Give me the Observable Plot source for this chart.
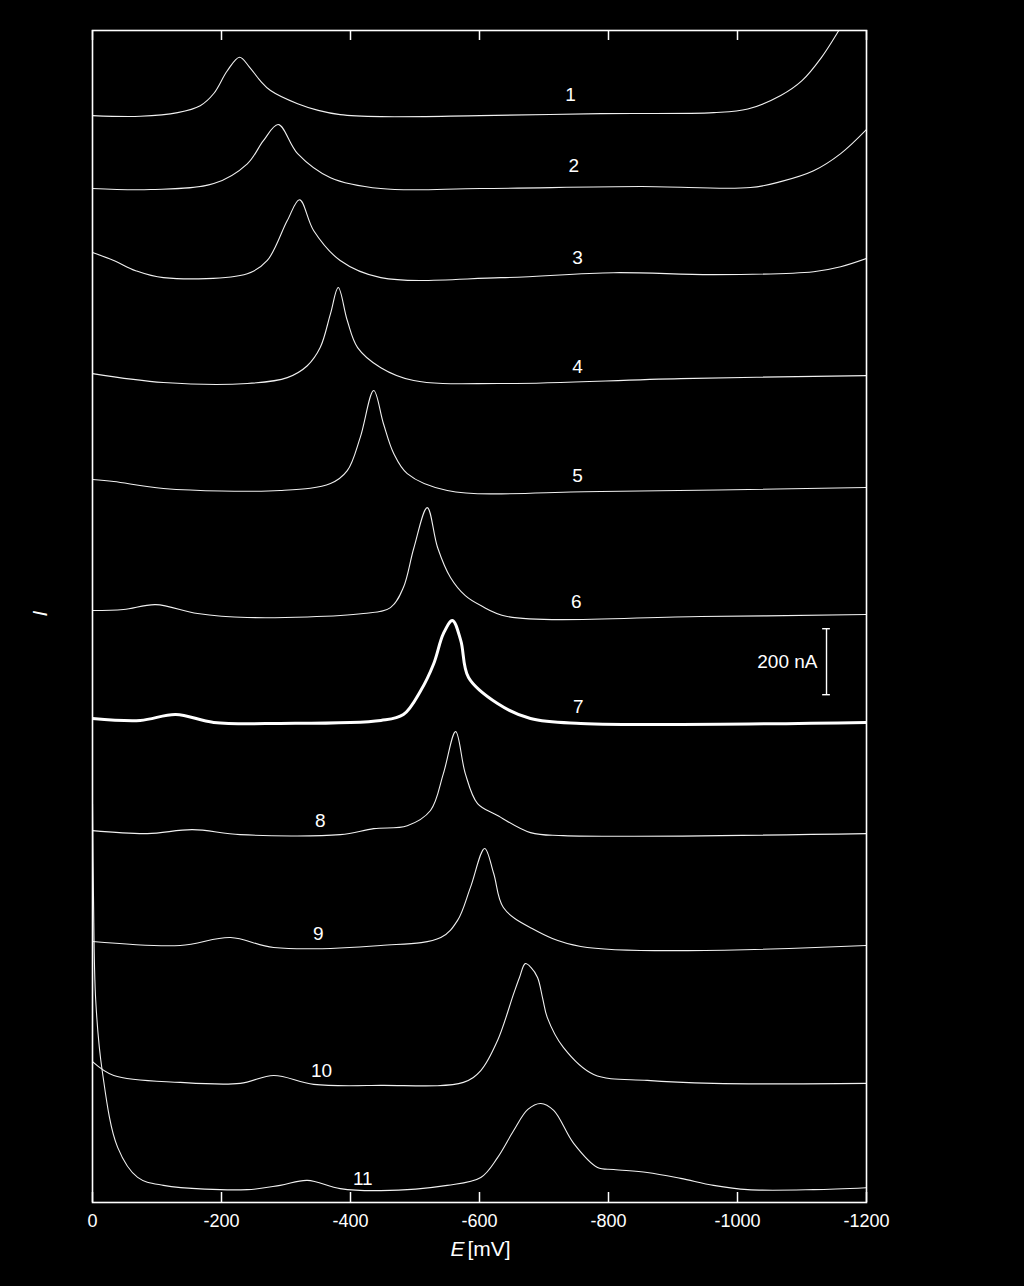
<!DOCTYPE html>
<html>
<head>
<meta charset="utf-8">
<script src="https://cdn.jsdelivr.net/npm/d3@7"></script>
<script src="https://cdn.jsdelivr.net/npm/@observablehq/plot@0.6"></script>
<style>
  html, body { margin: 0; padding: 0; background: #000; overflow: hidden; }
  #chart svg { display: block; }
</style>
</head>
<body>
<div id="chart"></div>
<script>
// Potential E [mV] and current I [nA] (stacked offsets) for each voltammogram
const curve1E = [0, -74, -132, -167, -188, -209, -228, -243, -260, -276, -318, -350, -384, -447, -601, -788, -963, -1016, -1067, -1100, -1130, -1157, -1180, -1200];
const curve1I = [3294, 3292, 3303, 3324, 3361, 3430, 3471, 3442, 3400, 3370, 3330, 3310, 3297, 3291, 3294, 3300, 3303, 3314, 3355, 3400, 3470, 3552, 3630, 3710];

const curve2E = [0, -90, -188, -240, -265, -288, -318, -369, -447, -601, -850, -1020, -1067, -1118, -1160, -1200];
const curve2I = [3073, 3070, 3088, 3148, 3218, 3267, 3179, 3106, 3073, 3073, 3079, 3076, 3094, 3127, 3179, 3252];

const curve3E = [0, -33, -67, -110, -240, -271, -302, -321, -343, -384, -447, -633, -808, -963, -1118, -1160, -1200];
const curve3I = [2879, 2855, 2824, 2803, 2815, 2855, 2976, 3039, 2945, 2855, 2803, 2803, 2818, 2812, 2821, 2836, 2861];

const curve4E = [0, -110, -240, -302, -333, -353, -369, -381, -395, -411, -447, -498, -633, -912, -1200];
const curve4I = [2512, 2485, 2482, 2500, 2536, 2591, 2694, 2773, 2673, 2591, 2530, 2491, 2482, 2497, 2506];

const curve5E = [0, -33, -110, -291, -369, -395, -415, -436, -451, -467, -488, -550, -788, -1200];
const curve5I = [2191, 2185, 2164, 2158, 2179, 2218, 2318, 2461, 2361, 2270, 2209, 2158, 2155, 2167];

const curve6E = [0, -48, -98, -163, -240, -420, -462, -482, -498, -519, -535, -555, -578, -602, -643, -943, -1200];
const curve6I = [1794, 1797, 1812, 1785, 1773, 1785, 1803, 1864, 1982, 2106, 1985, 1894, 1839, 1809, 1776, 1776, 1782];

const curve7E = [0, -74, -129, -188, -291, -447, -482, -509, -529, -544, -558, -571, -583, -628, -679, -757, -1200];
const curve7I = [1467, 1461, 1479, 1455, 1452, 1461, 1479, 1552, 1633, 1724, 1764, 1703, 1591, 1512, 1467, 1452, 1455];

const curve8E = [0, -85, -155, -229, -384, -436, -488, -524, -544, -563, -578, -597, -628, -679, -730, -1200];
const curve8I = [1127, 1118, 1130, 1115, 1115, 1133, 1142, 1188, 1300, 1427, 1300, 1209, 1173, 1121, 1112, 1118];

const curve9E = [0, -136, -214, -281, -447, -540, -566, -586, -608, -622, -637, -679, -757, -1200];
const curve9I = [791, 779, 803, 773, 779, 803, 855, 955, 1073, 997, 894, 833, 776, 779];

const curve10E = [0, -33, -136, -229, -281, -343, -447, -575, -602, -628, -653, -662, -671, -680, -690, -698, -705, -730, -777, -860, -963, -1200];
const curve10I = [427, 385, 364, 361, 385, 358, 355, 364, 400, 491, 633, 682, 724, 712, 682, 618, 561, 470, 388, 370, 361, 361];

const curve11E = [0, -1.5, -5, -15, -39, -70, -110, -240, -291, -333, -384, -447, -550, -602, -628, -653, -675, -695, -715, -746, -783, -808, -860, -912, -963, -1016, -1118, -1200];
const curve11I = [1209, 930, 612, 400, 167, 76, 52, 39, 52, 67, 42, 36, 52, 76, 136, 218, 282, 300, 279, 179, 106, 100, 91, 73, 52, 39, 39, 45];

// Curve number labels
const labelText = ["1", "2", "3", "4", "5", "6", "7", "8", "9", "10", "11"];
const labelE = [-741, -746, -752, -752, -752, -750, -753, -353, -350, -355, -419];
const labelI = [3358, 3142, 2864, 2533, 2203, 1821, 1503, 1158, 815, 400, 73];

// X ticks
const xTicks = [0, -200, -400, -600, -800, -1000, -1200];

// Current range of the frame [nA]
const yMin = 0;
const yMax = 3552;

// 200 nA scale bar
const scaleBarE = -1138;
const scaleBarBottom = 1539;
const scaleBarLength = 200;
const scaleBarLabel = "200 nA";

const curves = [
  [curve1E, curve1I], [curve2E, curve2I], [curve3E, curve3I], [curve4E, curve4I],
  [curve5E, curve5I], [curve6E, curve6I], [curve7E, curve7I], [curve8E, curve8I],
  [curve9E, curve9I], [curve10E, curve10I], [curve11E, curve11I]
];
const rows = curves.flatMap(([es, is], k) => es.map((e, j) => ({series: k + 1, E: e, I: is[j]})));
const thin = rows.filter(d => d.series !== 7);
const bold = rows.filter(d => d.series === 7);
const labels = labelText.map((t, k) => ({t, E: labelE[k], I: labelI[k]}));
const bar = [{E: scaleBarE, y1: scaleBarBottom, y2: scaleBarBottom + scaleBarLength}];
const caps = [scaleBarBottom, scaleBarBottom + scaleBarLength].map(v => ({v, x1: scaleBarE - 6, x2: scaleBarE + 6}));

const W = 1024, H = 1286, mT = 30, mR = 158, mB = 84, mL = 92;
const tickPx = 10;
const tickLen = (yMax - yMin) * tickPx / (H - mT - mB);  // inward tick length in data units
const tickRows = xTicks.flatMap(e => [
  {E: e, a: yMin, b: yMin + tickLen},
  {E: e, a: yMax - tickLen, b: yMax}
]);

const fmt = d => String(d);

const chart = Plot.plot({
  width: W,
  height: H,
  marginTop: mT,
  marginRight: mR,
  marginBottom: mB,
  marginLeft: mL,
  style: {background: "#000", color: "#fff", fontFamily: "'Liberation Sans', Arial, sans-serif", fontSize: "18px"},
  x: {domain: [0, -1200]},
  y: {domain: [yMin, yMax], axis: null},
  marks: [
    Plot.line(thin, {x: "E", y: "I", z: "series", stroke: "#f0f0f0", strokeWidth: 1.1, curve: "catmull-rom", clip: true}),
    Plot.line(bold, {x: "E", y: "I", z: "series", stroke: "#fff", strokeWidth: 3, curve: "catmull-rom", clip: true}),
    Plot.frame({stroke: "#fff", strokeWidth: 1.6}),
    Plot.ruleX(tickRows, {x: "E", y1: "a", y2: "b", stroke: "#fff", strokeWidth: 1.5}),
    Plot.axisX(xTicks, {anchor: "bottom", tickSize: 0, tickPadding: 12, tickFormat: fmt, label: null, fontSize: 18, fill: "#fff"}),
    Plot.text(labels, {x: "E", y: "I", text: "t", fill: "#fff", fontSize: 19}),
    Plot.ruleX(bar, {x: "E", y1: "y1", y2: "y2", stroke: "#fff", strokeWidth: 1.4}),
    Plot.ruleY(caps, {y: "v", x1: "x1", x2: "x2", stroke: "#fff", strokeWidth: 1.4}),
    Plot.text([scaleBarLabel], {x: scaleBarE + 14, y: scaleBarBottom + scaleBarLength / 2, text: d => d, textAnchor: "end", fill: "#fff", fontSize: 19}),
    Plot.text(["I"], {frameAnchor: "left", dx: -52, rotate: -90, text: d => d, fill: "#fff", fontSize: 21, fontStyle: "italic"}),
    Plot.text(["E"], {frameAnchor: "bottom", dx: -15, dy: 53, text: d => d, textAnchor: "end", fill: "#fff", fontSize: 21, fontStyle: "italic"}),
    Plot.text(["[mV]"], {frameAnchor: "bottom", dx: -12, dy: 53, text: d => d, textAnchor: "start", fill: "#fff", fontSize: 21})
  ]
});
document.getElementById("chart").appendChild(chart);
</script>
</body>
</html>
